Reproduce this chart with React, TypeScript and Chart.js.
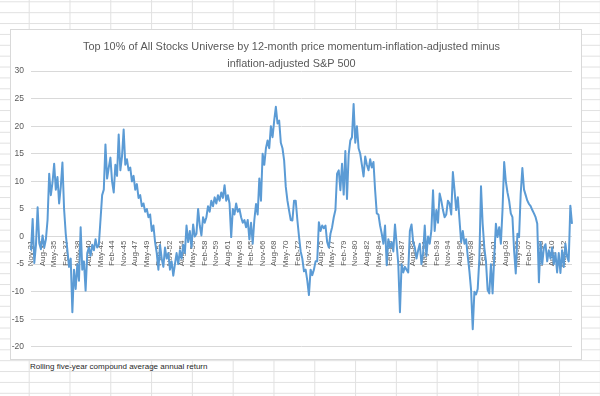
import React, { useEffect, useRef } from "react";
import { Chart, registerables } from "chart.js";

Chart.register(...registerables);

const TITLE_LINES = [
  "Top 10% of All Stocks Universe by 12-month price momentum-inflation-adjusted minus",
  "inflation-adjusted S&P 500",
];
const FOOTNOTE = "Rolling five-year compound average annual return";

const MONTH_NAMES = ["Jan", "Feb", "Mar", "Apr", "May", "Jun", "Jul", "Aug", "Sep", "Oct", "Nov", "Dec"];
const START_YEAR = 1931;
const START_MONTH = 10; // Nov
const STEP_MONTHS = 3;
const LABEL_EVERY = 7;

const Y_MIN = -20;
const Y_MAX = 30;
const Y_STEP = 5;

// rolling five-year excess return, one reading per quarter
const excessReturn = [
  -2.5, 3.2, -4.8, -1.5, 5.3, -1.2, -2.3, 0.2, -2, -0.5,
  3, 11.4, 7.5, 9.8, 13.2, 8.5, 10.8, 6, 9, 13.4,
  5, 0.5, -2.5, -5.5, -4, -13.7, -6, -9.5, -5, -8,
  1.7, -6, -4.5, -9.8, -3, -2, -3.5, -1.5, -2.5, -0.5,
  -2, -1.5, 3, 7.5, 8.5, 16.7, 10.5, 12.5, 14.3, 10,
  8, 13, 11, 18.5, 12, 14.5, 19.4, 13, 14, 12,
  12.5, 10, 11, 8.5, 9.5, 7, 7.5, 5.5, 6, 4.5,
  5, 3.5, 4, 1, 2, -1, -3, -6, -1.5, -4,
  -5.5, -2, -4, -3, -6, -4.5, -7.1, -5, -3, -5,
  -2.5, -4, -1.5, -3, 2, -1, 1, -2, 2.2, 0,
  0.5, 5, 2, 0.2, 3.5, 2.5, 3.5, 5.5, 4.5, 6.5,
  5.5, 7.1, 6, 7.5, 6.5, 8, 7, 9.3, 6.5, 7.5,
  6, -0.1, 5, 4, 6, 4.5, 5, 3.5, 2.5, 3,
  1.7, 3, -0.5, 2.5, -1.3, 3, 5.9, 4, 10.5, 6.5,
  15, 13, 16, 17.4, 16, 20, 18, 21, 23.5, 20.5,
  21, 17, 16, 13.8, 9, 6.5, 4.7, 3, 2.9, 6.5,
  6.5, 3, 0, -2.7, -4, -6.3, -6, -8, -10.6, -6,
  -7, -6, -4.5, -4.5, 2.6, 1, 2, 1.5, 2, -1,
  -2, 0.5, 1.7, 3.5, 4.8, 11.4, 12, 8.4, 13.2, 7.6,
  15.5, 6.8, 14.8, 17.4, 18, 24, 17, 20, 16, 15,
  13, 10.9, 14.5, 13, 12, 14, 12.5, 13.5, 8.4, 4.2,
  4, 2, 0.5, -1.3, 2, -5.2, -0.5, -2, -1, -2.7,
  2.2, -1.3, -5, -13.7, -5, -6.5, -5.5, -6, -6.5, 1,
  2.2, -1, -2, -4, -2.5, -1.3, -5, -3, 2, -3.5,
  0, -1.3, 1.1, 8.4, 1, 4.8, 2.5, 7.8, 6.5, 4.8,
  3.5, 4, 6.5, 6, 4, 11.7, 8.4, 4.8, 7.1, 3,
  -1, 1, -1.3, -0.5, -3.6, -6.3, -9.7, -16.8, -10, -10.5,
  -9.5, -4, 9.1, 2.3, -2, -4.5, -9.7, -10.3, -5, -10.3,
  -3.8, 2.3, -0.1, 1.7, -1.3, 4.8, 13.5, 10, 8, 6.5,
  4.2, 3.5, -2.5, -6.7, 0.5, -0.1, 7.8, 12.4, 8.5, 7.5,
  6.5, 5.9, 5.5, 4.8, 4.2, 3.5, 2.3, -8.3, -1, -5,
  -2, -1.4, -4.5, -2.5, -4, -2, -5, -3, -6.5, -3,
  -6.6, -2.5, -5.5, -1.3, -3.6, -4.5, 5.6, 2.3,
];

const periodLabels = excessReturn.map((_, i) => {
  const m = START_MONTH + i * STEP_MONTHS;
  const yr = (START_YEAR + Math.floor(m / 12)) % 100;
  return `${MONTH_NAMES[m % 12]}-${String(yr).padStart(2, "0")}`;
});

const SANS = "'Liberation Sans', Arial, sans-serif";
const GRID = "#d9d9d9";
const TEXT = "#595959";

export default function App() {
  const ref = useRef<HTMLCanvasElement | null>(null);

  useEffect(() => {
    if (!ref.current) return;
    const chart = new Chart(ref.current, {
      type: "line",
      data: {
        labels: periodLabels,
        datasets: [
          {
            data: excessReturn,
            borderColor: "#5b9bd5",
            borderWidth: 2,
            pointRadius: 0,
            tension: 0,
            borderJoinStyle: "round",
            fill: false,
          },
        ],
      },
      options: {
        responsive: false,
        animation: false,
        layout: { padding: { left: 0, right: 9, top: 0, bottom: 8 } },
        plugins: {
          legend: { display: false },
          tooltip: { enabled: false },
          title: {
            display: true,
            text: TITLE_LINES,
            color: TEXT,
            font: { family: SANS, size: 10.9, weight: "normal", lineHeight: "17px" },
            padding: { top: 8, bottom: -1 },
          },
        },
        scales: {
          x: {
            type: "category",
            position: { y: 0 } as any,
            offset: false,
            grid: { display: false, drawTicks: false },
            border: { display: false },
            ticks: {
              autoSkip: false,
              minRotation: 90,
              maxRotation: 90,
              padding: 4,
              color: TEXT,
              font: { family: SANS, size: 8 },
              callback: (_v: any, idx: number) => (idx % LABEL_EVERY === 0 ? periodLabels[idx] : ""),
            },
            afterFit: (scale: any) => {
              scale.paddingLeft = 0;
              scale.paddingRight = 0;
            },
          },
          y: {
            min: Y_MIN,
            max: Y_MAX,
            grid: { color: GRID, lineWidth: 1, drawTicks: false },
            border: { display: false },
            ticks: {
              stepSize: Y_STEP,
              padding: 7,
              color: TEXT,
              font: { family: SANS, size: 8.5 },
            },
            afterFit: (scale: any) => {
              scale.width = 20;
            },
          },
        },
      },
    });
    return () => chart.destroy();
  }, []);

  return (
    <div
      style={{
        position: "absolute",
        left: 0,
        top: 0,
        width: 600,
        height: 396,
        overflow: "hidden",
        backgroundColor: "#ffffff",
        backgroundImage:
          "linear-gradient(to right, #e1e1e1 1px, transparent 1px), linear-gradient(to bottom, #e1e1e1 1px, transparent 1px)",
        backgroundSize: "40.8px 100%, 100% 10.88px",
        backgroundPosition: "28.7px 0, 0 1.3px",
      }}
    >
      <div
        style={{
          position: "absolute",
          left: 10,
          top: 29,
          width: 572,
          height: 331,
          boxSizing: "border-box",
          border: "1px solid #d9d9d9",
          background: "#ffffff",
        }}
      >
        <canvas ref={ref} width={570} height={329} style={{ display: "block" }} />
      </div>
      <div
        style={{
          position: "absolute",
          left: 30,
          top: 361,
          height: 11,
          lineHeight: "11px",
          fontFamily: SANS,
          fontSize: 8,
          color: "#1f1f1f",
          whiteSpace: "nowrap",
        }}
      >
        {FOOTNOTE}
      </div>
    </div>
  );
}
